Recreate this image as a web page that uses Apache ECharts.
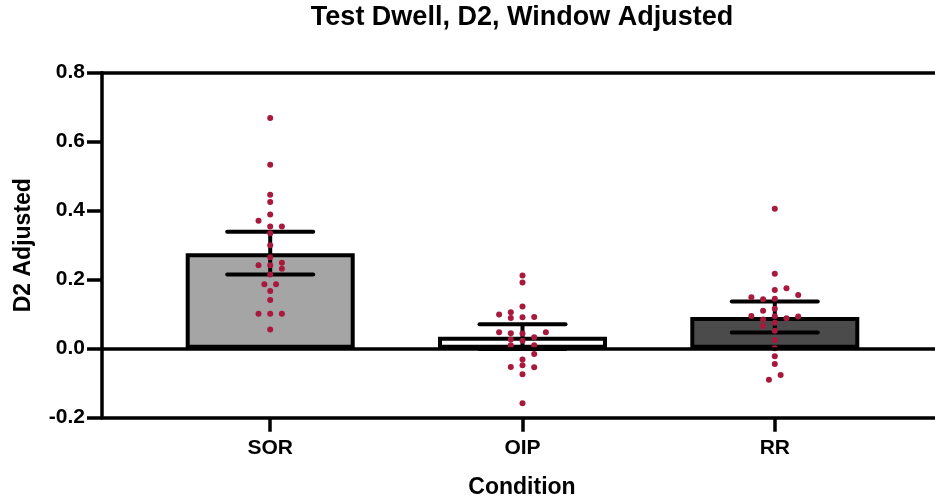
<!DOCTYPE html>
<html><head><meta charset="utf-8">
<script src="https://cdn.jsdelivr.net/npm/echarts@6/dist/echarts.min.js"></script>
<style>html,body{margin:0;padding:0;background:#fff}#c{width:935px;height:497px}</style>
</head><body><div id="c"></div>
<script>
const categories = ['SOR', 'OIP', 'RR'];
const barMeans = [0.277, 0.035, 0.092];
const barErrors = [0.062, 0.036, 0.045];
const barColors = ['#a5a5a5', '#ffffff', '#4a4b4a'];

const sorValues = [0.669, 0.533, 0.446, 0.425, 0.389, 0.371, 0.354, 0.354, 0.335, 0.300, 0.265, 0.249, 0.242, 0.242, 0.232, 0.215, 0.187, 0.187, 0.167, 0.141, 0.101, 0.101, 0.101, 0.056];
const sorSlots  = [0, 0, 0, 0, 0, -1, 0, 1, 0, 0, 0, 1, -1, 0, 1, 0, -0.5, 0.5, 0, 0, -1, 0, 1, 0];

const oipValues = [0.212, 0.192, 0.122, 0.099, 0.106, 0.089, 0.091, 0.092, 0.048, 0.045, 0.044, 0.048, 0.033, 0.027, 0.023, 0.010, 0.010, -0.015, -0.031, -0.048, -0.053, -0.054, -0.074, -0.158];
const oipSlots  = [0, 0, 0, -2, -1, -1, 0, 1, -2, -1, 0, 2, 1, -1, 0, -1, 1, 1, 0, 0, -1, 1, 0, 0];

const rrValues = [0.406, 0.217, 0.170, 0.175, 0.156, 0.149, 0.143, 0.145, 0.116, 0.110, 0.095, 0.094, 0.088, 0.093, 0.085, 0.075, 0.066, 0.052, 0.025, 0.001, -0.022, -0.044, -0.076, -0.090];
const rrSlots  = [0, 0, 0, 1, 2, -2, -1, 0, 0, -1, -2, 0, 1, 2, -1, 0, -1, 0, 0, 0, 0, 0, 0.5, -0.5];

const yMin = -0.2, yMax = 0.8, yInterval = 0.2;
const xMin = -0.6667, xMax = 2.635;

const FONT = '"Liberation Sans", Arial, Helvetica, sans-serif';
const SLOT_PX = 11.7;
const dotColor = '#a8193d';

const groups = [[sorValues, sorSlots], [oipValues, oipSlots], [rrValues, rrSlots]];
const dots = [];
groups.forEach(([vals, slots], ci) => {
  vals.forEach((v, k) => {
    dots.push({ value: [ci, v], symbolOffset: [slots[k] * SLOT_PX, 0] });
  });
});

const chart = echarts.init(document.getElementById('c'), null, { renderer: 'canvas' });
const axisLineStyle = { color: '#000', width: 3.5 };
chart.setOption({
  animation: false,
  backgroundColor: '#fff',
  grid: { left: 102, right: 0, top: 72.7, bottom: 79.3, containLabel: false, outerBoundsMode: 'none' },
  graphic: [{
    type: 'text', x: 522, y: 18,
    style: { text: 'Test Dwell, D2, Window Adjusted', font: 'bold 27px ' + FONT, fill: '#000', align: 'center', verticalAlign: 'middle' }
  }],
  xAxis: [{
    type: 'value', min: xMin, max: xMax, position: 'bottom',
    axisLine: { show: true, onZero: false, lineStyle: axisLineStyle },
    axisTick: { show: true, customValues: [0, 1, 2], length: 14, lineStyle: { color: '#000', width: 3.5 } },
    axisLabel: { customValues: [0, 1, 2], formatter: v => categories[Math.round(v)], margin: 20, fontSize: 21, fontWeight: 'bold', color: '#000', fontFamily: FONT },
    splitLine: { show: false },
    name: 'Condition', nameLocation: 'middle', nameGap: 58,
    nameTextStyle: { fontSize: 23, fontWeight: 'bold', color: '#000', fontFamily: FONT, padding: [0, 0, 0, 7] }
  }, {
    type: 'value', min: xMin, max: xMax, position: 'top',
    axisLine: { show: true, onZero: false, lineStyle: axisLineStyle },
    axisTick: { show: false }, axisLabel: { show: false }, splitLine: { show: false }
  }],
  yAxis: {
    type: 'value', min: yMin, max: yMax, interval: yInterval,
    axisLine: { show: true, onZero: false, lineStyle: axisLineStyle },
    axisTick: { show: true, length: 15, lineStyle: { color: '#000', width: 3.5 } },
    axisLabel: { formatter: v => v.toFixed(1), margin: 17, fontSize: 21, fontWeight: 'bold', color: '#000', fontFamily: FONT },
    splitLine: { show: false },
    name: 'D2 Adjusted', nameLocation: 'middle', nameGap: 67, nameRotate: 90,
    nameTextStyle: { fontSize: 23, fontWeight: 'bold', color: '#000', fontFamily: FONT }
  },
  series: [{
    type: 'bar', z: 2, barWidth: 169,
    data: barMeans.map((m, i) => ({ value: [i, m], itemStyle: { color: barColors[i] } })),
    itemStyle: { borderColor: '#000', borderWidth: 4 },
    markLine: {
      silent: true, symbol: 'none', label: { show: false },
      lineStyle: { color: '#000', width: 3.5, type: 'solid' },
      data: [{ yAxis: 0 }]
    }
  }, {
    type: 'custom', z: 3,
    data: barMeans.map((m, i) => [i, m, barErrors[i]]),
    renderItem: (params, api) => {
      const x = api.value(0), m = api.value(1), e = api.value(2);
      const top = api.coord([x, m + e]);
      const bot = api.coord([x, m - e]);
      const half = 43;
      const st = { stroke: '#000', lineWidth: 4, lineCap: 'round' };
      return {
        type: 'group', children: [
          { type: 'line', shape: { x1: top[0], y1: top[1], x2: bot[0], y2: bot[1] }, style: { stroke: '#000', lineWidth: 4 } },
          { type: 'line', shape: { x1: top[0] - half, y1: top[1], x2: top[0] + half, y2: top[1] }, style: st },
          { type: 'line', shape: { x1: bot[0] - half, y1: bot[1], x2: bot[0] + half, y2: bot[1] }, style: st }
        ]
      };
    }
  }, {
    type: 'scatter', z: 4, symbol: 'circle', symbolSize: 6,
    itemStyle: { color: dotColor, opacity: 1 },
    data: dots
  }]
});
</script>
</body></html>
